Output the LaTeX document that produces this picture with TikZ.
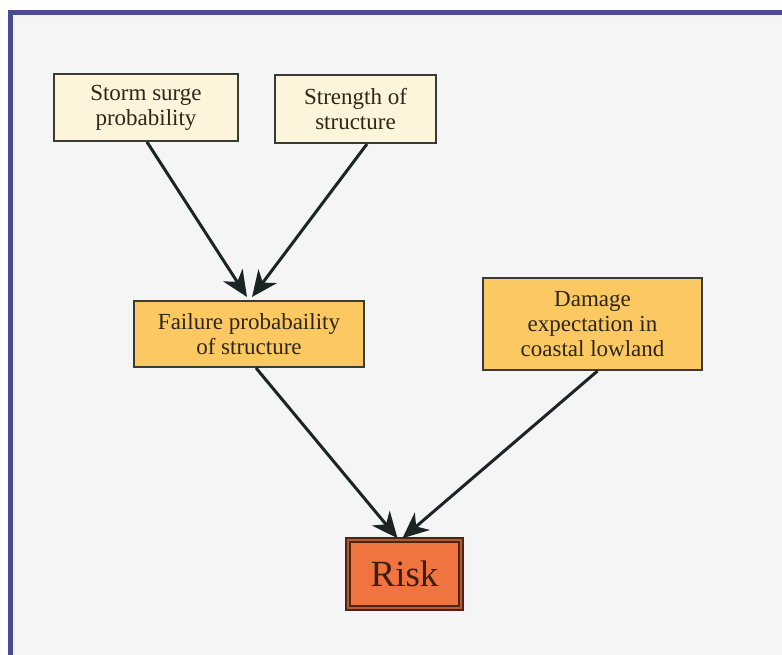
\documentclass[tikz,border=0pt]{standalone}
\usepackage{fontspec}
\setmainfont{Liberation Serif}
\usetikzlibrary{arrows.meta,calc}
\definecolor{frameblue}{HTML}{4B4C96}
\definecolor{bgpanel}{HTML}{F5F5F5}
\definecolor{creamfill}{HTML}{FCF5DC}
\definecolor{goldfill}{HTML}{FBC862}
\definecolor{boxline}{HTML}{3A3A36}
\definecolor{txt}{HTML}{2E2618}
\definecolor{arrowcol}{HTML}{1C2424}
\definecolor{riskfill}{HTML}{F0743F}
\definecolor{riskline}{HTML}{4E2416}
\definecolor{riskmid}{HTML}{B45A36}
\tikzset{
  infobox/.style={draw=boxline, line width=2pt, align=center, text=txt,
    font=\fontsize{23}{25}\selectfont, inner sep=0pt},
  inputbox/.style={infobox, fill=creamfill},
  midbox/.style={infobox, fill=goldfill},
  riskbox/.style={draw=riskline, line width=1.6pt, double=riskmid, double distance=2.4pt,
    fill=riskfill, text=riskline!80!black, font=\fontsize{37}{40}\selectfont, inner sep=0pt},
  flow/.style={draw=arrowcol, line width=3pt,
    -{Stealth[length=26pt, width=23pt, inset=8pt]}}
}
\begin{document}
\begin{tikzpicture}[x=1pt, y=-1pt]
\useasboundingbox (0,0) rectangle (782,655);
\fill[white] (0,0) rectangle (782,655);
\fill[bgpanel] (10.5,12.5) rectangle (782,655);
\draw[frameblue, line width=4.8pt] (10.5,655) -- (10.5,12.5) -- (782,12.5);

\node[inputbox, minimum width=184pt, minimum height=67pt] (b1) at (146,107.5)
  {Storm surge\\probability};
\node[inputbox, minimum width=161pt, minimum height=68pt] (b2) at (355.5,109)
  {Strength of\\structure};
\node[midbox, minimum width=230pt, minimum height=66pt] (b3) at (249,334)
  {Failure probabaility\\of structure};
\node[midbox, minimum width=219pt, minimum height=92pt] (b4) at (592.5,324)
  {Damage\\expectation in\\coastal lowland};
\node[riskbox, minimum width=113pt, minimum height=68pt] (risk) at (404.5,574)
  {Risk};

\draw[flow] ($(b1.south)+(1,0)$) -- ($(b3.north)+(-2,-3)$);
\draw[flow] ($(b2.south)+(11.5,0)$) -- ($(b3.north)+(3,-3)$);
\draw[flow] ($(b3.south)+(7,0)$) -- ($(risk.north)+(-7,-1)$);
\draw[flow] ($(b4.south)+(5,0)$) -- ($(risk.north)+(-2,-1)$);
\end{tikzpicture}
\end{document}
